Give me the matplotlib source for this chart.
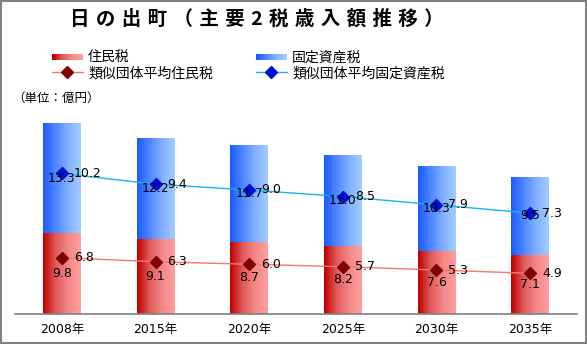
import numpy as np
import matplotlib
matplotlib.use('Agg')
from matplotlib import pyplot as plt
from matplotlib.colors import LinearSegmentedColormap
from matplotlib.patches import Rectangle
from matplotlib.lines import Line2D
from matplotlib.legend_handler import HandlerBase

plt.rcParams['font.family'] = ['DejaVu Sans', 'Noto Sans CJK JP']

# データ（億円）
years = ['2008年', '2015年', '2020年', '2025年', '2030年', '2035年']
juminzei = [9.8, 9.1, 8.7, 8.2, 7.6, 7.1]
kotei = [13.3, 12.2, 11.7, 11.0, 10.3, 9.5]
avg_jumin = [6.8, 6.3, 6.0, 5.7, 5.3, 4.9]
avg_kotei = [10.2, 9.4, 9.0, 8.5, 7.9, 7.3]

red_cm = LinearSegmentedColormap.from_list('r', ['#c00000', '#e05a5a', '#f48888', '#ff9e9e'])
blue_cm = LinearSegmentedColormap.from_list('b', ['#1a5cff', '#4f86ff', '#82b0ff', '#a0ccff'])


class GradHandler(HandlerBase):
    def __init__(self, cmap):
        super().__init__()
        self.cmap = cmap

    def create_artists(self, legend, orig, xd, yd, w, h, fs, trans):
        arts = []
        n = 12
        for i in range(n):
            r = Rectangle((xd + w * i / n, yd + h * 0.2), w / n + 0.3, h * 0.6,
                          facecolor=self.cmap(i / (n - 1)), edgecolor='none', transform=trans)
            arts.append(r)
        return arts


fig = plt.figure(figsize=(5.87, 3.44), dpi=100)
ax = fig.add_axes([15 / 587, 0.088, 562 / 587, 0.6235])

x = np.arange(len(years))
w = 0.4
b1 = ax.bar(x, juminzei, w, facecolor='none', edgecolor='none')
b2 = ax.bar(x, kotei, w, bottom=juminzei, facecolor='none', edgecolor='none')

grad = np.linspace(0, 1, 64).reshape(1, -1)
for bars, cm in [(b1, red_cm), (b2, blue_cm)]:
    for p in bars:
        x0, y0 = p.get_x(), p.get_y()
        im = ax.imshow(grad, extent=[x0, x0 + p.get_width(), y0, y0 + p.get_height()],
                       aspect='auto', cmap=cm, zorder=1, interpolation='bilinear')
        im.set_clip_path(p)

# 類似団体平均（積み上げ折れ線）
line_r = np.array(avg_jumin)
line_b = np.array(avg_jumin) + np.array(avg_kotei)
ax.plot(x, line_r, color='#f4786a', lw=1, marker='D', ms=6.5, mfc='#800000', mec='#800000', zorder=3)
ax.plot(x, line_b, color='#19b4f0', lw=1, marker='D', ms=6.5, mfc='#0010d0', mec='#0010d0', zorder=3)

for i in range(len(years)):
    ax.text(x[i], juminzei[i] / 2, f'{juminzei[i]:.1f}', ha='center', va='center', fontsize=9, zorder=4)
    ax.text(x[i], juminzei[i] + kotei[i] / 2, f'{kotei[i]:.1f}', ha='center', va='center', fontsize=9, zorder=4)
    ax.annotate(f'{avg_jumin[i]:.1f}', (x[i], line_r[i]), xytext=(8.5, 0), textcoords='offset points',
                ha='left', va='center', fontsize=9, zorder=4)
    ax.annotate(f'{avg_kotei[i]:.1f}', (x[i], line_b[i]), xytext=(8.5, 0), textcoords='offset points',
                ha='left', va='center', fontsize=9, zorder=4)

ax.set_xlim(-0.5, len(years) - 0.5)
ax.set_ylim(0, 26)
ax.set_xticks(x)
ax.set_xticklabels(years, fontsize=9)
ax.tick_params(axis='x', length=0, pad=7)
ax.set_yticks([])
for s in ['top', 'right', 'left']:
    ax.spines[s].set_visible(False)
ax.spines['bottom'].set_color('#808080')
ax.spines['bottom'].set_linewidth(1.2)
ax.patch.set_alpha(0)

# 凡例
h_r = Rectangle((0, 0), 1, 1)
h_b = Rectangle((0, 0), 1, 1)
h_lr = Line2D([], [], color='#f4786a', lw=1, marker='D', ms=6.5, mfc='#800000', mec='#800000')
h_lb = Line2D([], [], color='#19b4f0', lw=1, marker='D', ms=6.5, mfc='#0010d0', mec='#0010d0')
fig.legend([h_r, h_lr, h_b, h_lb],
           ['住民税', '類似団体平均住民税', '固定資産税', '類似団体平均固定資産税'],
           handler_map={h_r: GradHandler(red_cm), h_b: GradHandler(blue_cm)},
           loc='upper left', bbox_to_anchor=(52 / 587, 1 - 51 / 344), ncol=2, frameon=False,
           fontsize=10, handlelength=2.2, handletextpad=0.4, columnspacing=3.1,
           labelspacing=0.08, borderpad=0, borderaxespad=0)

fig.text(12 / 587, 1 - 98 / 344, '（単位：億円）', fontsize=9, va='center', ha='left')

title = '日の出町（主要2税歳入額推移）'
fig.text(70 / 587, 1 - 19 / 344, '\u2004'.join(title), fontsize=14, fontweight='bold',
         family=['Noto Sans CJK JP', 'DejaVu Sans'], va='center', ha='left')

fig.add_artist(Rectangle((0.001, 0.002), 0.997, 0.996, transform=fig.transFigure,
                         facecolor='none', edgecolor='#808080', lw=1.5))

fig.savefig('out.png', dpi=100)
